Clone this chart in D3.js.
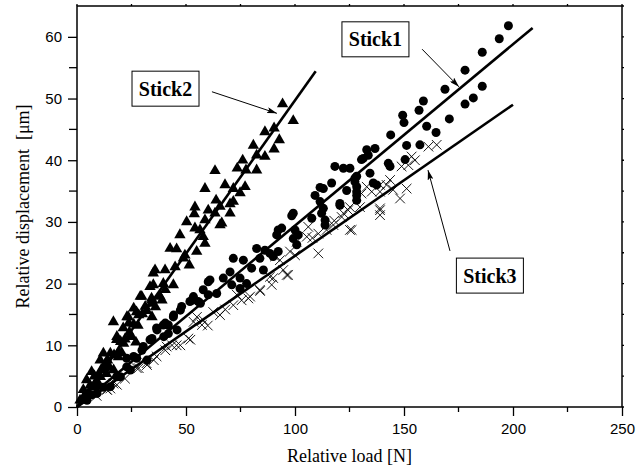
<!DOCTYPE html>
<html>
<head>
<meta charset="utf-8">
<script src="https://cdn.jsdelivr.net/npm/d3@7"></script>
<style>
  body { margin: 0; background: #fff; }
  svg { display: block; }
</style>
</head>
<body>
<div id="vis"></div>
<script>
// Stick1 (circles)  [load N, displacement um]
const stick1 = [
  [197.9,61.8],[193.7,59.7],[185.9,57.5],[178,54.6],[168.8,51.5],[185.9,52],[181.8,50.1],[178,49.1],
  [170.8,46.7],[158.9,49.6],[156.9,48.1],[149.4,47.3],[150,46.1],[160.4,45.5],[164.7,44.5],[143.9,44.1],
  [151.2,42.4],[157.3,42.5],[136.7,41.9],[132.9,41.7],[131.3,40.3],[150.5,40.1],[142.8,39.5],[143.6,39],
  [118.3,39],[122.2,38.7],[125.2,38.7],[134.4,37.9],[128.3,37.4],[116.8,36.3],[127.5,36.5],[135.9,36.3],
  [113,35.4],[123.7,35.1],[128.3,34.9],[137.5,36],[111.5,33.3],[120.6,33],[128.3,33.5],[112.2,31.4],
  [113.8,30.3],[130.5,40.1],[133.6,40.8],[127.5,37.1],[128.3,35.7],[111.5,35.6],[128.3,34.3],[109.2,34.3],
  [120.6,32.7],[113,32.2],[99.2,31.4],[98.5,31],[107.7,30.6],[113.8,29.5],[93.9,29],[100,28.7],
  [101.5,27.9],[99.2,27.3],[100.8,26.3],[92.3,28.7],[91.6,27.9],[86.2,25.4],[82.4,25.7],[83.9,24.1],
  [90,24.4],[71.7,24.1],[76.3,23.8],[80.1,22.5],[74.8,20.9],[67.1,20.9],[61,20.6],[71,19.8],
  [74.8,19.2],[57.9,19],[60.2,18.2],[64.1,18.4],[53.4,17.9],[51.8,17.1],[48,16.3],[60.2,20.3],
  [55.6,17.1],[44.2,14.6],[39.6,13.3],[36.5,12.8],[41.9,13.3],[41.9,11.9],[33.5,10.9],[30.4,9.8],
  [27.4,7.9],[22.8,7.9],[22.8,6.5],[18.2,4.9],[70.2,21.9],[77.8,20],[85.5,22.2],[92.3,25.2],
  [88.5,24.9],[52.8,17.3],[56.6,16.8],[47.4,15.7],[44.3,14.9],[40.5,13.6],[36.7,12.5],[34.4,11.1],
  [29.8,9.2],[39.8,11.4],[45.9,12.5],[32.1,7.6],[24.5,6],[19.9,4.9],[15.3,3.3],[9.2,2.2],[4.6,1.1],
  [12,3.2],[26,8.2],[7,2]
];

// Stick2 (triangles)
const stick2 = [
  [94.3,49.1],[99.2,46.4],[86.2,44.6],[90.4,45.2],[80.9,42.4],[92.8,43.3],[90.4,41.8],[86.2,40.6],
  [82.4,40.8],[76,40],[73.5,38.7],[77.5,38.4],[82.4,38.4],[63.3,38.3],[58.7,35.4],[67.9,36],
  [71.7,35.4],[77.1,35.7],[74.8,34.7],[63.8,33.5],[65.6,32.5],[60.2,31.9],[54.1,32.4],[53.8,31.3],
  [50.3,30],[58.7,30.3],[63.3,31.4],[70.2,31.4],[70.2,32.9],[47.2,27.9],[56.4,28.7],[57.9,27.6],
  [65.6,29.5],[71.7,33.3],[66.4,29.8],[54.1,29],[58.7,26.5],[42.7,25.7],[45.7,25.6],[54.9,25.2],
  [48.8,24.1],[51.5,23],[45,22.7],[40.4,22.2],[35.8,22.2],[39.6,20],[44.2,19.8],[35,19.8],
  [34.2,17.6],[38.1,17.9],[49.5,24.6],[35,21.7],[29.7,17.9],[33.5,19.5],[34.2,16.8],[27.3,15.4],
  [23.5,14.6],[21.2,12.8],[18.2,10.9],[16.7,13.8],[12.1,8.7],[10.6,7.6],[6.7,5.7],[4.4,4.4],
  [2.9,2.8],[1.4,1.1],[29,17.9],[34.4,17.3],[39,17.3],[26,16],[31.3,16.3],[28.3,14.9],
  [22.9,14.6],[34.4,14.6],[23.7,13.6],[18.3,11.4],[21.4,10.3],[15.3,8.7],[19.1,9],[13,7.1],
  [16.8,6],[10.7,4.9],[7.6,3.3],[4.6,1.9],
  [8,5],[9,4.3],[11,6],[12.5,6.3],[14,7.6],[17,8.4],[20,10.6],[24,12.1],[26,13.4],[30,15.1],
  [25,11.4],[19,8.1],[15,6.4],[6,3.5],[3,1.6],[10,5.2],[22,11],[28,13.2],[32,15.6],[36,16.2],
  [13.5,5.4],[9.5,3.6],[5.5,2.4],[20.5,8.8],[27,10.5],[40.5,19]
];

// Stick3 (crosses)
const stick3 = [
  [165,42.5],[161.2,42.2],[155,40],[152,39.2],[148.9,39],[151.2,35.4],[148.2,33.8],[143.6,36.8],
  [139,34.9],[135.2,34.9],[132.9,35.7],[139,31.9],[125.2,28.7],[129.8,32.4],[125.2,32.4],[122.2,31.4],
  [142,36],[153.5,40.6],[139,36],[130.5,34.6],[139,32.2],[139,31.1],[124.4,31.9],[126,28.7],
  [121.4,30.8],[114.5,28.7],[117.6,29.5],[106.1,29.2],[105.4,27.6],[110.7,28.1],[100.8,26.8],[97.7,25.2],
  [110.7,24.9],[93.1,23.8],[96.9,21.4],[100,24.6],[90.8,24.4],[94.6,22.2],[88.5,21.1],[89.3,19.8],
  [83.9,19],[79.4,17.9],[75.5,17.3],[71.7,16.5],[96.2,21.4],[90,20.9],[78.6,17.6],[73.3,18.2],
  [65.6,14.9],[62.5,15.4],[57.9,14.1],[51.1,11.1],[45.7,10],[41.1,9.8],[36.5,8.2],[31.9,7.1],
  [27.4,6.3],[16.7,3.8],[13.6,2.8],[52,10.9],[47.4,10],[43.6,10],[40.5,9.2],[35.2,7.6],
  [32.1,6.8],[28.3,6.3],[18.3,3.6],[15.3,3],[13.8,2.8],[55,14.6],[53.5,13.8],[57.3,13.3],
  [60,13.2],[68,15.8],[84,18.8],[108,27.4],[118,30.2],[145,35.2],[9,1.8],[22,4.6]
];

// fitted lines: slope and end load
const fitNames = ["Stick1", "Stick2", "Stick3"];
const fitSlopes = [0.294, 0.497, 0.245];
const fitEnds = [209, 109.5, 200];

// label boxes (centre) and arrows (from -> to), data coords
const labelPos = [[136.9, 59.6], [40.6, 51.6], [189.4, 21.3]];
const arrowFrom = [[158.3, 58.0], [61.9, 51.1], [171.1, 25.3]];
const arrowTo = [[175.2, 51.9], [91.7, 47.6], [161.0, 38.4]];

const xTicks = [0, 50, 100, 150, 200, 250];
const yTicks = [0, 10, 20, 30, 40, 50, 60];

const W = 643, H = 472;
const margin = { top: 6, right: 21, bottom: 65, left: 77 };
const iw = W - margin.left - margin.right;
const ih = H - margin.top - margin.bottom;

const svg = d3.select("#vis").append("svg").attr("width", W).attr("height", H);
const g = svg.append("g").attr("transform", `translate(${margin.left},${margin.top})`);

const x = d3.scaleLinear().domain([0, 250]).range([0, iw]);
const y = d3.scaleLinear().domain([0, 65]).range([ih, 0]);

const tickFont = "'Liberation Sans', Arial, sans-serif";
const serif = "'Liberation Serif', 'Times New Roman', serif";

// frame
g.append("rect").attr("width", iw).attr("height", ih)
  .attr("fill", "none").attr("stroke", "#000").attr("stroke-width", 1.5);

// minor ticks
const xMinor = d3.range(25, 250, 50);
const yMinor = d3.range(5, 65, 10);
g.selectAll(".xminor").data(xMinor).join("line")
  .attr("x1", d => x(d)).attr("x2", d => x(d)).attr("y1", ih).attr("y2", ih + 5)
  .attr("stroke", "#000").attr("stroke-width", 1.3);
g.selectAll(".yminor").data(yMinor).join("line")
  .attr("x1", -8).attr("x2", 0).attr("y1", d => y(d)).attr("y2", d => y(d))
  .attr("stroke", "#000").attr("stroke-width", 1.3);
// top / right small ticks
g.selectAll(".xtop").data(d3.range(0, 251, 25)).join("line")
  .attr("x1", d => x(d)).attr("x2", d => x(d)).attr("y1", 0).attr("y2", -2)
  .attr("stroke", "#000").attr("stroke-width", 1.3);
g.selectAll(".yright").data(d3.range(0, 66, 5)).join("line")
  .attr("x1", iw).attr("x2", iw + 2).attr("y1", d => y(d)).attr("y2", d => y(d))
  .attr("stroke", "#000").attr("stroke-width", 1.3);

// axes
const xAxis = g.append("g").attr("transform", `translate(0,${ih})`)
  .call(d3.axisBottom(x).tickValues(xTicks).tickSize(9).tickPadding(7));
const yAxis = g.append("g")
  .call(d3.axisLeft(y).tickValues(yTicks).tickSize(9).tickPadding(6));
[xAxis, yAxis].forEach(a => {
  a.select(".domain").remove();
  a.selectAll("line").attr("stroke-width", 1.3);
  a.selectAll("text").attr("font-family", tickFont).attr("font-size", 15).attr("fill", "#000");
});

// axis titles
svg.append("text").attr("x", margin.left + x(125)).attr("y", 462)
  .attr("text-anchor", "middle").attr("font-family", serif).attr("font-size", 18)
  .text("Relative load [N]");
svg.append("text").attr("transform", `translate(29,${margin.top + y(32.5)}) rotate(-90)`)
  .attr("text-anchor", "middle").attr("font-family", serif).attr("font-size", 18)
  .attr("xml:space", "preserve")
  .text("Relative displacement  [μm]");

// data points
g.append("g").selectAll("circle").data(stick1).join("circle")
  .attr("cx", d => x(d[0])).attr("cy", d => y(d[1])).attr("r", 4.5).attr("fill", "#000");
const tri = d3.symbol(d3.symbolTriangle, 56);
g.append("g").selectAll("path").data(stick2).join("path")
  .attr("transform", d => `translate(${x(d[0])},${y(d[1])})`).attr("d", tri).attr("fill", "#000");
const crs = d3.symbol(d3.symbolTimes, 62);
g.append("g").selectAll("path").data(stick3).join("path")
  .attr("transform", d => `translate(${x(d[0])},${y(d[1])})`).attr("d", crs)
  .attr("fill", "none").attr("stroke", "#000").attr("stroke-width", 0.9);

// fitted lines
g.append("g").selectAll("line").data(fitSlopes).join("line")
  .attr("x1", x(0)).attr("y1", y(0))
  .attr("x2", (d, i) => x(fitEnds[i])).attr("y2", (d, i) => y(d * fitEnds[i]))
  .attr("stroke", "#000").attr("stroke-width", 2.6).attr("stroke-linecap", "butt");

// arrows
svg.append("defs").append("marker").attr("id", "ah")
  .attr("viewBox", "0 0 10 6").attr("refX", 10).attr("refY", 3)
  .attr("markerWidth", 10).attr("markerHeight", 6).attr("markerUnits", "userSpaceOnUse")
  .attr("orient", "auto")
  .append("path").attr("d", "M0,0 L10,3 L0,6 L2,3 Z").attr("fill", "#000");
g.append("g").selectAll("line").data(arrowFrom).join("line")
  .attr("x1", d => x(d[0])).attr("y1", d => y(d[1]))
  .attr("x2", (d, i) => x(arrowTo[i][0])).attr("y2", (d, i) => y(arrowTo[i][1]))
  .attr("stroke", "#000").attr("stroke-width", 1).attr("marker-end", "url(#ah)");

// label boxes
const lab = g.append("g").selectAll("g").data(fitNames).join("g")
  .attr("transform", (d, i) => `translate(${x(labelPos[i][0])},${y(labelPos[i][1])})`);
lab.append("rect").attr("x", -33.5).attr("y", -17.5).attr("width", 67).attr("height", 35)
  .attr("fill", "#fff").attr("stroke", "#000").attr("stroke-width", 1);
lab.append("text").attr("text-anchor", "middle").attr("dy", "0.35em")
  .attr("font-family", serif).attr("font-weight", "bold").attr("font-size", 20)
  .text(d => d);
</script>
</body>
</html>
